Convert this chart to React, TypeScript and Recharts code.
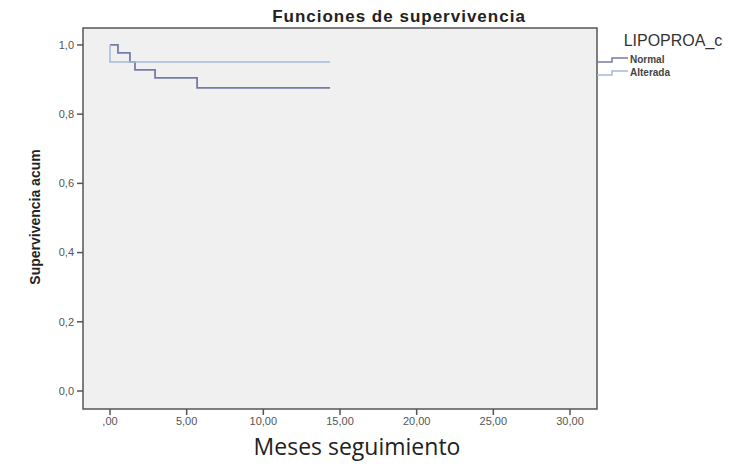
import React from 'react';
import { LineChart, Line, XAxis, YAxis, ReferenceArea } from 'recharts';

// survival steps
const normalTimes = [0, 0.52, 1.3, 1.63, 2.94, 5.68, 14.35];
const normalSurv = [1.0, 0.977, 0.951, 0.928, 0.905, 0.876, 0.876];
const alteradaTimes = [0, 0, 14.35];
const alteradaSurv = [1.0, 0.951, 0.951];

const xTicks = [0, 5, 10, 15, 20, 25, 30];
const yTicks = [0, 0.2, 0.4, 0.6, 0.8, 1.0];
const groups = ['Normal', 'Alterada'];

const X_DOMAIN = [-1.76, 31.76];
const Y_DOMAIN = [-0.052, 1.049];

const NORMAL_COLOR = '#767ca6';
const ALTERADA_COLOR = '#a6b9d8';
const groupColors = [NORMAL_COLOR, ALTERADA_COLOR];
const FRAME = '#555555';
const FONT = '"Liberation Sans", Arial, sans-serif';

const normalData = normalTimes.map((t, i) => ({ time: t, surv: normalSurv[i] }));
const alteradaData = alteradaTimes.map((t, i) => ({ time: t, surv: alteradaSurv[i] }));

const fmtX = (v: number) => (v === 0 ? ',00' : v.toFixed(2).replace('.', ','));
const fmtY = (v: number) => v.toFixed(1).replace('.', ',');

export default function App() {
  return (
    <div style={{ position: 'relative', width: 742, height: 461 }}>
      <LineChart
        width={742}
        height={461}
        margin={{ top: 20, right: 153, bottom: 30, left: 0 }}
      >
        <ReferenceArea
          x1={X_DOMAIN[0]}
          x2={X_DOMAIN[1]}
          y1={Y_DOMAIN[0]}
          y2={Y_DOMAIN[1]}
          fill="#f0f0f0"
          fillOpacity={1}
          stroke={FRAME}
          strokeWidth={1.5}
          ifOverflow="extendDomain"
        />
        <XAxis
          type="number"
          dataKey="time"
          domain={X_DOMAIN}
          ticks={xTicks}
          tickFormatter={fmtX}
          allowDuplicatedCategory={false}
          height={30}
          tickSize={6}
          tickMargin={2}
          axisLine={false}
          tickLine={{ stroke: FRAME, strokeWidth: 1.5 }}
          tick={{ fontSize: 11, fill: '#555', fontFamily: FONT }}
        />
        <YAxis
          type="number"
          dataKey="surv"
          domain={Y_DOMAIN}
          ticks={yTicks}
          tickFormatter={fmtY}
          width={75}
          tickSize={6}
          tickMargin={3}
          axisLine={false}
          tickLine={{ stroke: FRAME, strokeWidth: 1.5 }}
          tick={{ fontSize: 11, fill: '#555', fontFamily: FONT }}
        />
        <Line
          data={normalData}
          dataKey="surv"
          name="Normal"
          type="stepAfter"
          stroke={NORMAL_COLOR}
          strokeWidth={1.8}
          dot={false}
          isAnimationActive={false}
        />
        <Line
          data={alteradaData}
          dataKey="surv"
          name="Alterada"
          type="stepAfter"
          stroke={ALTERADA_COLOR}
          strokeWidth={1.5}
          dot={false}
          isAnimationActive={false}
        />
      </LineChart>
      <svg
        width={742}
        height={461}
        style={{ position: 'absolute', left: 0, top: 0, pointerEvents: 'none' }}
      >
        <text
          x={391}
          y={14}
          textAnchor="middle"
          fontSize={17}
          fontWeight="bold"
          letterSpacing={1}
          fill="#222"
          fontFamily={FONT}
        >
          Funciones de supervivencia
        </text>
        <text
          x={27}
          y={209}
          transform="rotate(-90 27 209)"
          textAnchor="middle"
          dominantBaseline="central"
          fontSize={14}
          fontWeight="bold"
          fill="#222"
          fontFamily={FONT}
        >
          Supervivencia acum
        </text>
        <text
          x={349}
          y={438}
          textAnchor="middle"
          dominantBaseline="central"
          fontSize={23}
          fill="#222"
          fontFamily='"Open Sans", sans-serif'
        >
          Meses seguimiento
        </text>
        {/* legend */}
        <text x={665} y={38} textAnchor="middle" fontSize={16} fill="#333" fontFamily={FONT}>
          LIPOPROA_c
        </text>
        {groups.map((g, i) => {
          const y = 54 + i * 13;
          return (
            <g key={g}>
              <path
                d={`M589,${y} H604 V${y - 4} H620`}
                fill="none"
                stroke={groupColors[i]}
                strokeWidth={1.5}
              />
              <text x={622} y={y + 1} fontSize={10} fontWeight="bold" fill="#444" fontFamily={FONT}>
                {g}
              </text>
            </g>
          );
        })}
      </svg>
    </div>
  );
}
